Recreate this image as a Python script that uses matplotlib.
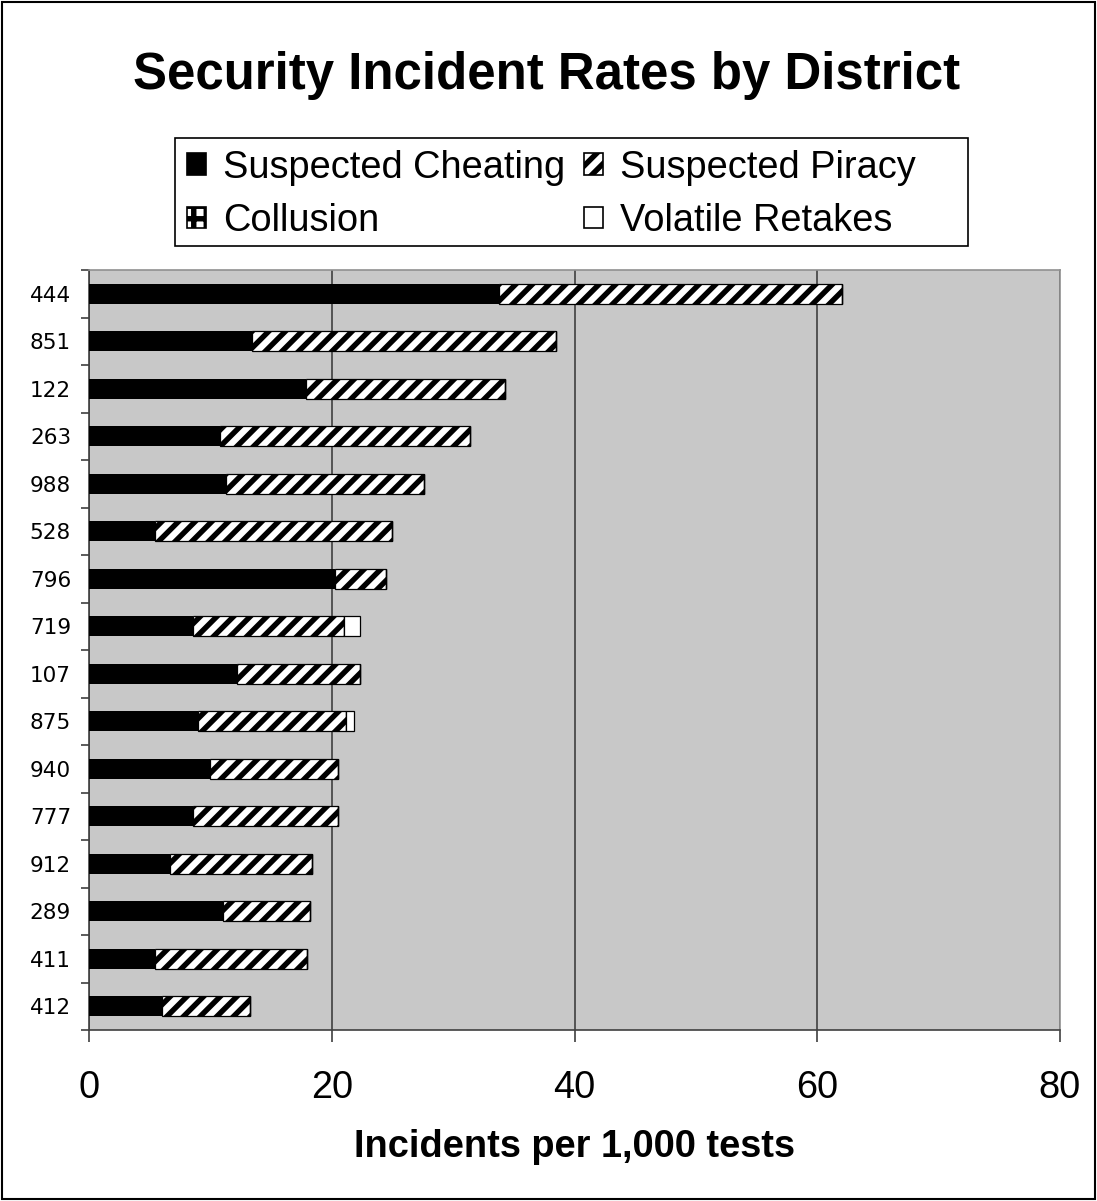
import numpy as np
import matplotlib.pyplot as plt
from matplotlib.patches import Rectangle

DPI = 150
PT = 72.0 / DPI  # pixel -> point

districts = ["444", "851", "122", "263", "988", "528", "796", "719",
             "107", "875", "940", "777", "912", "289", "411", "412"]
cheating = [33.8, 13.4, 17.9, 10.8, 11.3, 5.4, 20.3, 8.6,
            12.2, 9.0, 10.0, 8.6, 6.7, 11.0, 5.4, 6.0]
piracy = [28.2, 25.1, 16.4, 20.6, 16.3, 19.6, 4.2, 12.4,
          10.1, 12.2, 10.5, 11.9, 11.7, 7.2, 12.6, 7.3]
collusion = [0] * 16
retakes = [0, 0, 0, 0, 0, 0, 0, 1.3,
           0, 0.6, 0, 0, 0, 0, 0, 0]

plt.rcParams['hatch.linewidth'] = 2.6
plt.rcParams['font.family'] = ['Liberation Sans', 'DejaVu Sans']

fig = plt.figure(figsize=(1097 / DPI, 1201 / DPI), dpi=DPI)
ax = fig.add_axes([89 / 1097, 1 - 1030 / 1201, 971 / 1097, 760 / 1201])
ax.set_facecolor('#c8c8c8')

y = np.arange(len(districts))
h = 0.43
left = np.zeros(len(districts))
series = [
    ("Suspected Cheating", cheating, dict(color='black')),
    ("Suspected Piracy", piracy, dict(facecolor='white', edgecolor='black', hatch='///')),
    ("Collusion", collusion, dict(facecolor='white', edgecolor='black', hatch='++')),
    ("Volatile Retakes", retakes, dict(facecolor='white', edgecolor='black')),
]
handles = {}
for name, vals, style in series:
    vals = np.array(vals, dtype=float)
    ax.barh(y, vals, height=h, left=left, linewidth=0.6, zorder=3, **style)
    handles[name] = Rectangle((0, 0), 1, 1, linewidth=0.8, **style)
    left += vals

ax.set_xlim(0, 80)
ax.set_ylim(len(districts) - 0.5, -0.5)
ax.set_xticks([0, 20, 40, 60, 80])
ax.tick_params(axis='x', labelsize=38 * PT, direction='out', length=12 * PT,
               width=0.8, color='#404040', pad=28 * PT)
ax.set_yticks(y)
ax.set_yticklabels(districts, family='DejaVu Sans', fontsize=21.5 * PT)
ax.tick_params(axis='y', length=0, pad=18 * PT)
ax.set_yticks(np.arange(-0.5, len(districts)), minor=True)
ax.tick_params(axis='y', which='minor', direction='out', length=8 * PT,
               width=0.8, color='#404040')
ax.xaxis.grid(True, color='#404040', linewidth=0.8, zorder=1)
ax.set_axisbelow(True)
for s in ['top', 'right']:
    ax.spines[s].set_color('#909090')
    ax.spines[s].set_linewidth(0.8)
for s in ['left', 'bottom']:
    ax.spines[s].set_color('#404040')
    ax.spines[s].set_linewidth(0.8)

ax.set_xlabel("Incidents per 1,000 tests", fontsize=38 * PT, fontweight='bold',
              labelpad=23 * PT)
fig.text(547 / 1097, 1 - 75 / 1201, "Security Incident Rates by District",
         ha='center', va='center', fontsize=51 * PT, fontweight='bold')

# legend entries without frame, plus a wider box drawn around them
order = ["Suspected Cheating", "Collusion", "Suspected Piracy", "Volatile Retakes"]
leg = fig.legend([handles[n] for n in order], order, ncol=2,
                 loc='upper left', bbox_to_anchor=(183 / 1097, 1 - 146 / 1201),
                 fontsize=38 * PT, frameon=False,
                 handlelength=0.5, handleheight=0.5, handletextpad=0.45,
                 columnspacing=0.5, labelspacing=0.45, borderpad=0.1,
                 borderaxespad=0)
fig.patches.append(Rectangle((175 / 1097, 1 - 246 / 1201), 793 / 1097, 108 / 1201,
                             transform=fig.transFigure, facecolor='white',
                             edgecolor='black', linewidth=0.8, zorder=0))

fig.patches.append(Rectangle((0.002, 0.002), 0.996, 0.996, transform=fig.transFigure,
                             fill=False, edgecolor='black', linewidth=1.0))

fig.savefig("out.png", dpi=DPI)
